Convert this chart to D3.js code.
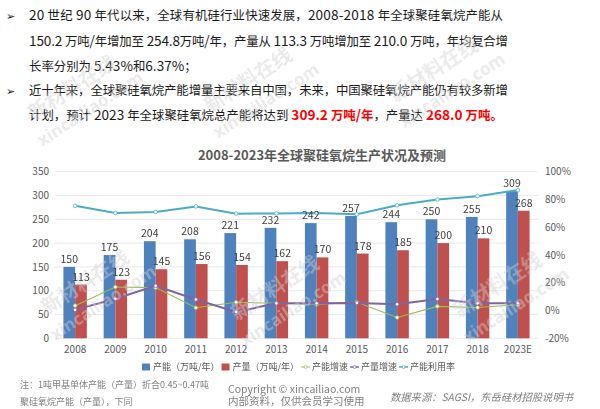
<!DOCTYPE html>
<html><head><meta charset="utf-8">
<script src="https://cdn.jsdelivr.net/npm/d3@7/dist/d3.min.js"></script>
<style>
html,body{margin:0;padding:0;background:#fff;}
svg{display:block;font-family:"Noto Sans CJK SC","Noto Sans",sans-serif;}
</style></head>
<body>
<svg id="c" width="600" height="409"></svg>
<script>
// ---- data ----
const categories = ["2008","2009","2010","2011","2012","2013","2014","2015","2016","2017","2018","2023E"];
const capacity   = [150,175,204,208,221,232,242,257,244,250,255,309];
const production = [113,123,145,156,154,162,170,178,185,200,210,268];
const capacityGrowth   = [3.5,16.9,16.5,2.0,6.0,5.2,4.4,6.0,-5.0,3.0,2.2,4.2];
const productionGrowth = [0.5,8.5,17.8,8.0,-1.0,5.2,5.2,5.5,4.5,8.3,5.2,5.2];
const utilization      = [75.4,70.3,71.0,75.0,69.8,69.9,70.2,69.3,75.8,80.0,82.4,86.7];
const leftTicks  = [0,50,100,150,200,250,300,350];
const rightTicks = [-20,0,20,40,60,80,100];
const seriesNames = ["产能（万吨/年）","产量（万吨/年）","产能增速","产量增速","产能利用率"];
const chartTitle = "2008-2023年全球聚硅氧烷生产状况及预测";
const paragraphLines = [
  [{t:"20 世纪 90 年代以来，全球有机硅行业快速发展，2008-2018 年全球聚硅氧烷产能从"}],
  [{t:"150.2 万吨/年增加至 254.8万吨/年，产量从 113.3 万吨增加至 210.0 万吨，年均复合增"}],
  [{t:"长率分别为 5.43%和6.37%；"}],
  [{t:"近十年来，全球聚硅氧烷产能增量主要来自中国，未来，中国聚硅氧烷产能仍有较多新增"}],
  [{t:"计划，预计 2023 年全球聚硅氧烷总产能将达到 "},{t:"309.2 万吨/年",r:1},{t:"，产量达 "},{t:"268.0 万吨",r:1},{t:"。",r:1}]
];
const noteLines = ["注：1吨甲基单体产能（产量）折合0.45~0.47吨","聚硅氧烷产能（产量），下同"];
const copyrightLines = ["Copyright © xincailiao.com","内部资料，仅供会员学习使用"];
const sourceText = "数据来源：SAGSI，东岳硅材招股说明书";
const wmCN = "新材料在线", wmEN = "xincailiao.com";

// ---- styles ----
const C = {cap:"#4F81BD", prod:"#C0504D", cg:"#9BBB59", pg:"#8064A2", ut:"#4BACC6"};
const svg = d3.select("#c");

// ---- paragraph ----
const para = svg.append("g").attr("fill","#1a1a1a");
const baselines = [20,45.5,70.5,95,120];
const fitWidths = [474,479,null,479,null];
const cjkRe = /([\u3000-\u303f\u4e00-\u9fff\uff00-\uffef]+)/;
paragraphLines.forEach((parts,i)=>{
  const t = para.append("text").attr("x",29).attr("y",baselines[i]);
  parts.forEach(p=>{
    p.t.split(cjkRe).filter(s=>s.length).forEach(seg=>{
      const isCJK = cjkRe.test(seg);
      const s = t.append("tspan").text(seg).style("font-size", isCJK ? "12.4px" : "13.6px");
      if(p.r) s.attr("fill","#FF0000").attr("font-weight","bold");
    });
  });
  if(fitWidths[i]) t.attr("textLength",fitWidths[i]).attr("lengthAdjust","spacing");
});
[0,3].forEach(i=>{
  para.append("text").attr("x",6).attr("y",baselines[i]-0.5)
    .style("font-family","DejaVu Sans").style("font-size","11px").text("➢");
});

// ---- chart scales ----
const x0 = d3.scaleBand().domain(categories).range([55,538]).paddingInner(0.418).paddingOuter(0.209);
const x1 = d3.scaleBand().domain(["cap","prod"]).range([0,x0.bandwidth()]);
const yL = d3.scaleLinear().domain([0,350]).range([338.3,171.7]);
const yR = d3.scaleLinear().domain([-20,100]).range([338.3,171.7]);
const cx = c => x0(c)+x0.bandwidth()/2;

// title
svg.append("text").attr("x",322).attr("y",159.5).attr("text-anchor","middle")
  .attr("font-weight","bold").style("font-size","13px").attr("fill","#595959").text(chartTitle);

// gridlines
svg.append("g").selectAll("line").data(leftTicks).join("line")
  .attr("x1",55).attr("x2",538).attr("y1",d=>yL(d)).attr("y2",d=>yL(d))
  .attr("stroke","#e3e3e3").attr("stroke-width",0.8);

// axes labels
const axL = svg.append("g").attr("transform","translate(55,0)")
  .call(d3.axisLeft(yL).tickValues(leftTicks).tickSize(0).tickPadding(6));
const axR = svg.append("g").attr("transform","translate(538,0)")
  .call(d3.axisRight(yR).tickValues(rightTicks).tickSize(0).tickPadding(7).tickFormat(d=>d+"%"));
const axB = svg.append("g").attr("transform","translate(0,338.3)")
  .call(d3.axisBottom(x0).tickSize(0).tickPadding(8));
[axL,axR,axB].forEach(a=>{
  a.select(".domain").remove();
  a.selectAll("text").attr("fill","#595959").style("font-size","10px")
    .style("font-family","'Noto Sans CJK SC','Noto Sans',sans-serif");
});

// bars
const rows = categories.map((c,i)=>({c,cap:capacity[i],prod:production[i]}));
const gb = svg.append("g");
["cap","prod"].forEach(k=>{
  gb.selectAll("rect."+k).data(rows).join("rect").attr("class",k)
    .attr("x",d=>x0(d.c)+x1(k)).attr("width",x1.bandwidth())
    .attr("y",d=>yL(d[k])).attr("height",d=>yL(0)-yL(d[k]))
    .attr("fill",C[k]);
});

// lines
const lines = [
  {k:"cg",v:capacityGrowth,w:1.1},
  {k:"pg",v:productionGrowth,w:2},
  {k:"ut",v:utilization,w:2}
];
lines.forEach(L=>{
  const pts = categories.map((c,i)=>[cx(c),yR(L.v[i])]);
  svg.append("path").attr("d",d3.line()(pts)).attr("fill","none")
    .attr("stroke",C[L.k]).attr("stroke-width",L.w);
  svg.append("g").selectAll("circle").data(pts).join("circle")
    .attr("cx",d=>d[0]).attr("cy",d=>d[1]).attr("r",1.8)
    .attr("fill","#fff").attr("stroke",C[L.k]).attr("stroke-width",0.8);
});

// watermarks
const wm = svg.append("g").attr("fill","#d0d0d0").attr("opacity",0.45).attr("font-weight","bold");
const wmPos = [[72,88],[248,80],[434,70],[85,282],[275,288],[498,285]];
wmPos.forEach(p=>{
  const g = wm.append("g").attr("transform",`translate(${p[0]},${p[1]}) rotate(-33)`);
  g.append("text").attr("text-anchor","middle").attr("y",7).style("font-size","20px").text(wmCN);
  g.append("text").attr("text-anchor","middle").attr("x",4).attr("y",33).style("font-size","17px")
    .style("font-family","'Noto Sans',sans-serif").text(wmEN);
});

// bar value labels
const gl = svg.append("g");
["cap","prod"].forEach(k=>{
  gl.selectAll("text."+k).data(rows).join("text").attr("class",k)
    .attr("x",d=>x0(d.c)+x1(k)+x1.bandwidth()/2).attr("y",d=>yL(d[k])-4)
    .attr("text-anchor","middle").style("font-size","10.5px").attr("fill","#404040")
    .text(d=>d[k]);
});

// legend
const leg = svg.append("g").style("font-size","9px").attr("fill","#595959");
let lx = 142; const ly = 367;
seriesNames.forEach((n,i)=>{
  const key = ["cap","prod","cg","pg","ut"][i];
  if(i<2){
    leg.append("rect").attr("x",lx).attr("y",ly-3.5).attr("width",8).attr("height",7).attr("fill",C[key]);
  } else {
    leg.append("line").attr("x1",lx).attr("x2",lx+9).attr("y1",ly).attr("y2",ly)
      .attr("stroke",C[key]).attr("stroke-width",i===2?1:1.5);
    leg.append("circle").attr("cx",lx+4.5).attr("cy",ly).attr("r",1.5)
      .attr("fill","#fff").attr("stroke",C[key]).attr("stroke-width",0.7);
  }
  const t = leg.append("text").attr("x",lx+11).attr("y",ly+3.2).text(n);
  lx += 11 + t.node().getComputedTextLength() + 2;
});

// footer
const foot = svg.append("g").attr("fill","#808080");
noteLines.forEach((s,i)=>foot.append("text").attr("x",20).attr("y",[388,404.5][i]).style("font-size","9px").text(s));
copyrightLines.forEach((s,i)=>foot.append("text").attr("x",228).attr("y",[393,404.5][i]).style("font-size","10.5px").text(s));
foot.append("text").attr("x",390).attr("y",400.5).style("font-size","10.3px").style("font-style","italic").text(sourceText);
</script>
</body></html>
